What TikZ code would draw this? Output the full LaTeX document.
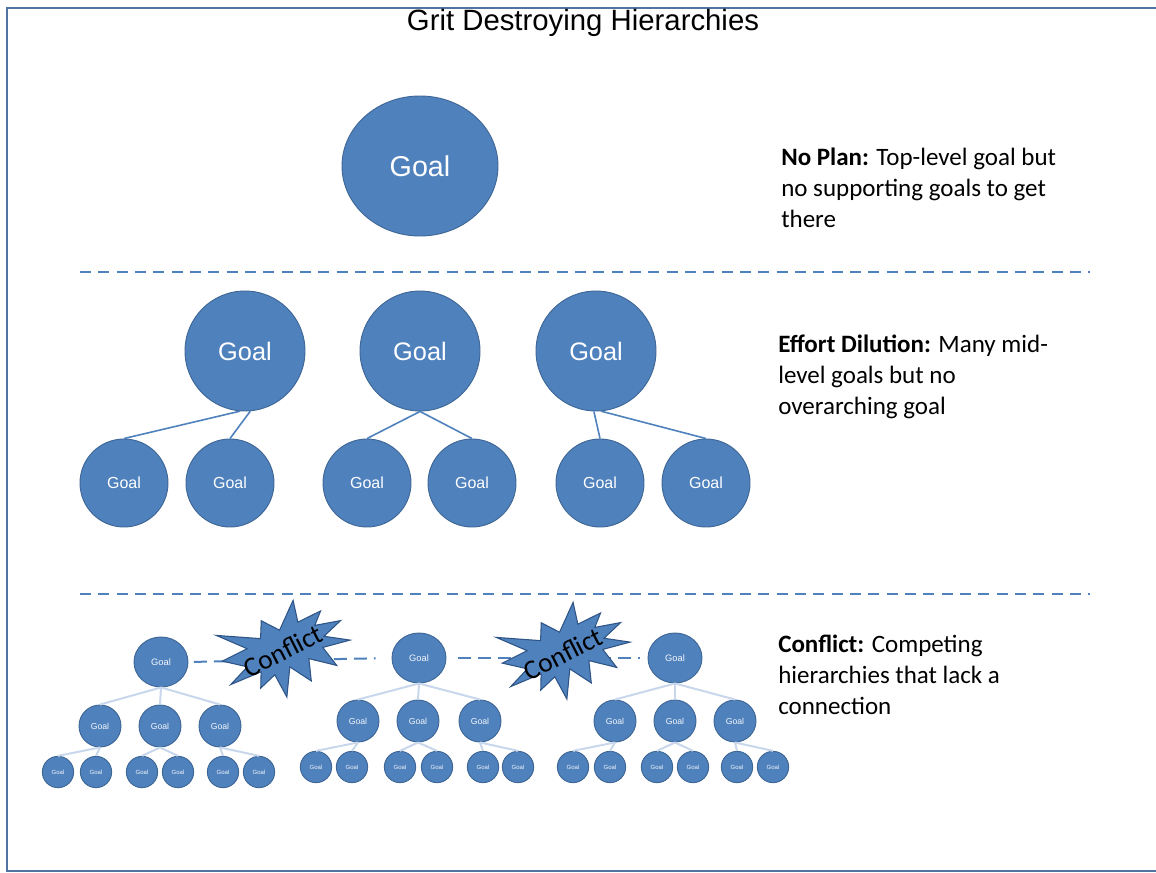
\documentclass[tikz,border=0pt]{standalone}
\usepackage{fontspec}
\setmainfont{Liberation Sans}
\newfontfamily\carlito{Carlito}
\usetikzlibrary{shapes.geometric}
\definecolor{gblue}{HTML}{4F81BD}
\definecolor{gedge}{HTML}{3F6796}
\definecolor{gburst}{HTML}{2F5586}
\definecolor{glight}{HTML}{C8D7EB}
\definecolor{gframe}{HTML}{4F749F}
\definecolor{gtext}{HTML}{F4F7FB}
\tikzset{
  goalnode/.style={fill=gblue, draw=gedge, line width=0.7pt, inner sep=0pt, text=white},
  topgoal/.style={goalnode, ellipse, minimum width=117pt, minimum height=105pt, font=\fontsize{21.5}{24}\selectfont},
  midgoal/.style={goalnode, circle, minimum size=90pt, font=\fontsize{19}{22}\selectfont},
  subgoal/.style={goalnode, circle, minimum size=66pt, font=\fontsize{12}{14}\selectfont},
  rootgoal/.style={goalnode, ellipse, minimum width=40.5pt, minimum height=37.5pt, text=gtext, font=\fontsize{7}{8}\selectfont},
  kidgoal/.style={goalnode, circle, minimum size=31.5pt, text=gtext, font=\fontsize{6.5}{8}\selectfont},
  leafgoal/.style={goalnode, circle, minimum size=23.5pt, text=gtext, font=\fontsize{4.5}{5}\selectfont},
  midedge/.style={draw=gblue, line width=1.2pt},
  lightedge/.style={draw=glight, line width=1.5pt},
  sepline/.style={draw=gblue, line width=1.4pt, dash pattern=on 8.25pt off 5.5pt},
  conflictline/.style={draw=gblue, line width=1.5pt, dash pattern=on 9.75pt off 5.25pt},
  desc/.style={align=left, inner sep=0pt, anchor=north west, font=\carlito\fontsize{18.75}{23.25}\selectfont},
  burstlabel/.style={inner sep=0pt, text=black, font=\carlito\fontsize{20.5}{22}\selectfont},
  burst/.pic={\path[pic actions] (0,-0.2315) -- (0.1723,-0.5) -- (0.1553,-0.2535) -- (0.3509,-0.2937) -- (0.2732,-0.1613) -- (0.4767,-0.1233) -- (0.3151,-0.0150) -- (0.5,0.1153) -- (0.2795,0.0992) -- (0.34,0.3377) -- (0.1491,0.1693) -- (0.1133,0.4138) -- (-0.0124,0.1914) -- (-0.1072,0.5) -- (-0.1428,0.2235) -- (-0.2795,0.3156) -- (-0.2376,0.1452) -- (-0.4938,0.1753) -- (-0.3277,0.0451) -- (-0.5,-0.1012) -- (-0.2858,-0.1474) -- (-0.4829,-0.3938) -- (-0.1615,-0.2074) -- (-0.1133,-0.3938) -- cycle;}
}
\begin{document}
\begin{tikzpicture}[x=0.75pt,y=-0.75pt]
\useasboundingbox (0,0) rectangle (1156,873);
% frame
\draw[gframe, line width=2.2pt] (1156,8) -- (7,8) -- (7,871) -- (1156,871);
% title
\node[anchor=base, inner sep=0pt, font=\fontsize{22}{26}\selectfont] (title) at (583,31) {Grit Destroying Hierarchies};

% section 1
\node[topgoal] (top) at (420,166) {Goal};
\node[desc] (t1) at (781,147.5) {\textbf{No Plan:} Top-level goal but\\no supporting goals to get\\there};

% separators
\coordinate (s1a) at (80,272); \coordinate (s1b) at (1090,272);
\coordinate (s2a) at (80,594); \coordinate (s2b) at (1090,594);
\draw[sepline] (s1a) -- (s1b);
\draw[sepline] (s2a) -- (s2b);

% section 2
\node[midgoal] (m1) at (245,351) {Goal};
\node[midgoal] (m2) at (420,351) {Goal};
\node[midgoal] (m3) at (596,351) {Goal};
\node[subgoal] (m1a) at (124,483) {Goal};
\node[subgoal] (m1b) at (230,483) {Goal};
\node[subgoal] (m2a) at (367,483) {Goal};
\node[subgoal] (m2b) at (472,483) {Goal};
\node[subgoal] (m3a) at (600,483) {Goal};
\node[subgoal] (m3b) at (706,483) {Goal};
\draw[midedge] (m1.-95) -- (m1a.north);
\draw[midedge] (m1.-85) -- (m1b.north);
\draw[midedge] (m2.south) -- (m2a.north);
\draw[midedge] (m2.south) -- (m2b.north);
\draw[midedge] (m3.-92) -- (m3a.north);
\draw[midedge] (m3.-85) -- (m3b.north);
\node[desc] (t2) at (778,334.5) {\textbf{Effort Dilution:} Many mid-\\level goals but no\\overarching goal};

% section 3 : tree 1
\node[rootgoal] (r1) at (161,662) {Goal};
\node[kidgoal] (r1a) at (100,726) {Goal};
\node[kidgoal] (r1b) at (160,726) {Goal};
\node[kidgoal] (r1c) at (220,726) {Goal};
\node[leafgoal] (l1) at (58,772) {Goal};
\node[leafgoal] (l2) at (96,772) {Goal};
\node[leafgoal] (l3) at (142,772) {Goal};
\node[leafgoal] (l4) at (178,772) {Goal};
\node[leafgoal] (l5) at (223,772) {Goal};
\node[leafgoal] (l6) at (259,772) {Goal};
% tree 2
\node[rootgoal] (r2) at (419,658) {Goal};
\node[kidgoal] (r2a) at (358,721) {Goal};
\node[kidgoal] (r2b) at (418,721) {Goal};
\node[kidgoal] (r2c) at (480,721) {Goal};
\node[leafgoal] (l7) at (316,767) {Goal};
\node[leafgoal] (l8) at (352,767) {Goal};
\node[leafgoal] (l9) at (400,767) {Goal};
\node[leafgoal] (l10) at (437,767) {Goal};
\node[leafgoal] (l11) at (483,767) {Goal};
\node[leafgoal] (l12) at (518,767) {Goal};
% tree 3
\node[rootgoal] (r3) at (675,658) {Goal};
\node[kidgoal] (r3a) at (615,721) {Goal};
\node[kidgoal] (r3b) at (675,721) {Goal};
\node[kidgoal] (r3c) at (735,721) {Goal};
\node[leafgoal] (l13) at (573,767) {Goal};
\node[leafgoal] (l14) at (610,767) {Goal};
\node[leafgoal] (l15) at (657,767) {Goal};
\node[leafgoal] (l16) at (693,767) {Goal};
\node[leafgoal] (l17) at (737,767) {Goal};
\node[leafgoal] (l18) at (773,767) {Goal};

\foreach \r/\a/\b/\c in {r1/r1a/r1b/r1c, r2/r2a/r2b/r2c, r3/r3a/r3b/r3c}{
  \draw[lightedge] (\r.south) -- (\a.north);
  \draw[lightedge] (\r.south) -- (\b.north);
  \draw[lightedge] (\r.south) -- (\c.north);
}
\foreach \k/\p/\q in {r1a/l1/l2, r1b/l3/l4, r1c/l5/l6, r2a/l7/l8, r2b/l9/l10, r2c/l11/l12, r3a/l13/l14, r3b/l15/l16, r3c/l17/l18}{
  \draw[lightedge] (\k.south) -- (\p.north);
  \draw[lightedge] (\k.south) -- (\q.north);
}

% conflict lines and bursts
\draw[conflictline, shorten <=4pt, shorten >=12pt] (r1.east) -- (r2.west);
\draw[conflictline, shorten <=9pt, shorten >=6pt] (r2.east) -- (r3.west);
\pic[fill=gblue, draw=gburst, line width=0.8pt, shift={(286,650)}, rotate=18, xscale=128, yscale=90] {burst};
\pic[fill=gblue, draw=gburst, line width=0.8pt, shift={(566,652)}, rotate=18, xscale=128, yscale=90] {burst};
\node[burstlabel, rotate=27] (c1) at (283,651) {Conflict};
\node[burstlabel, rotate=27] (c2) at (563,654) {Conflict};

\node[desc] (t3) at (778,634.5) {\textbf{Conflict:} Competing\\hierarchies that lack a\\connection};
\end{tikzpicture}
\end{document}
